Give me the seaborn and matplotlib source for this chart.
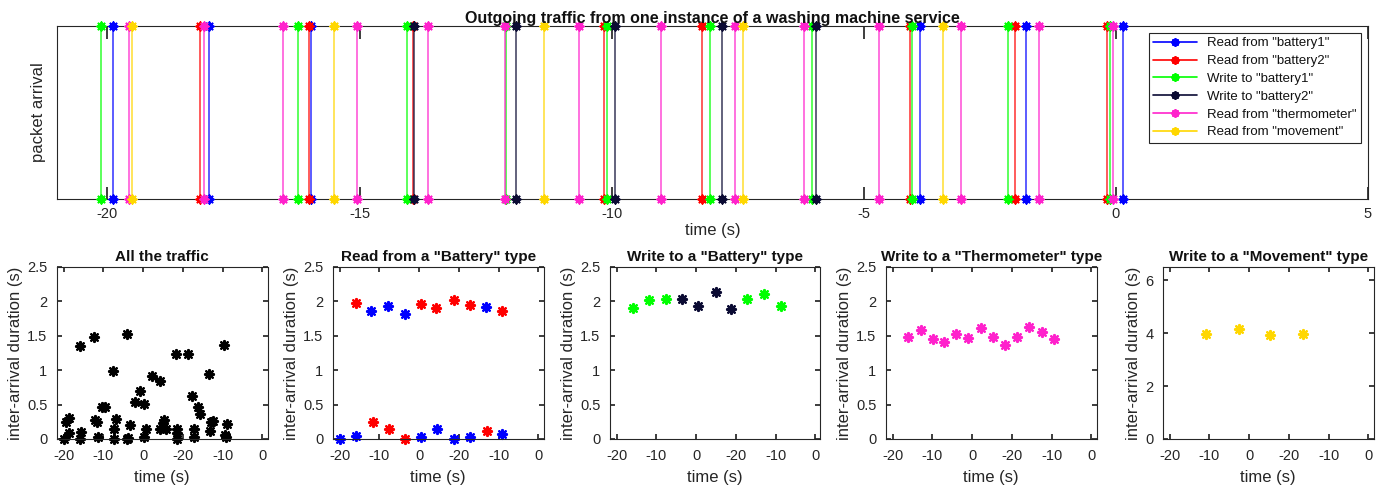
import numpy as np
import pandas as pd
import seaborn as sns
import matplotlib.pyplot as plt
from matplotlib.lines import Line2D
plt.switch_backend('agg')

# ---- top panel: packet arrival times (s)
rd_batt1 = [-19.88, -17.98, -15.97, -3.89, -1.78, 0.15]
rd_batt2 = [-18.16, -16.00, -13.93, -10.16, -8.20, -4.08, -2.01, -0.18]
wr_batt1 = [-20.13, -16.23, -14.06, -12.09, -10.10, -8.04, -6.03, -4.04, -2.13, -0.11]
wr_batt2 = [-13.91, -11.89, -9.93, -7.82, -5.94]
rd_thermo = [-19.58, -18.09, -16.52, -15.05, -13.64, -12.11, -10.64, -9.03, -7.55,
             -6.18, -4.70, -3.08, -1.52, -0.05]
rd_move = [-19.51, -15.50, -11.34, -7.40, -3.43]

series_names = ['Read from "battery1"', 'Read from "battery2"', 'Write to "battery1"',
                'Write to "battery2"', 'Read from "thermometer"', 'Read from "movement"']
series_colors = ['#0000ff', '#ff0000', '#00ff00', '#0b0b33', '#ff22cc', '#ffd700']
top_ticks = [-20, -15, -10, -5, 0, 5]

# ---- bottom panels: inter-arrival durations
bot_ticks = [0, 10, 20, 30, 40, 50]
bot_ticklabels = ['-20', '-10', '0', '-20', '-10', '0']

all_x = [0, 0.67, 1.25, 1.4, 4.17, 4.17, 4.3, 7.5, 7.9, 8.3, 8.5, 9.6, 10.4, 12.3, 12.7,
         12.7, 13.2, 15.8, 16.0, 16.2, 16.7, 17.9, 19.2, 20.2, 20.2, 20.6, 22.3, 24.2, 24.3,
         25.0, 25.25, 25.7, 28.2, 28.6, 28.6, 28.6, 31.25, 32.3, 32.7, 32.9, 33.75, 34.4,
         36.5, 36.7, 37.1, 37.5, 40.4, 40.6, 40.8, 41.1]
all_y = [0, 0.25, 0.30, 0.08, 1.35, 0, 0.1, 1.48, 0.28, 0.24, 0.03, 0.47, 0.47, 0.99, 0.14,
         0, 0.29, 1.52, 0, 0.01, 0.21, 0.54, 0.70, 0.51, 0.03, 0.15, 0.91, 0.84, 0.14,
         0.23, 0.28, 0.14, 1.23, 0.14, 0.08, 0, 1.23, 0.62, 0.03, 0.15, 0.47, 0.36,
         0.94, 0.11, 0.24, 0.26, 1.36, 0.06, 0.03, 0.22]

rb_blue_x = [0, 4.2, 7.8, 12.2, 16.5, 20.4, 24.5, 28.7, 32.7, 36.7, 40.8]
rb_blue_y = [0, 0.04, 1.86, 1.93, 1.82, 0.03, 0.15, 0, 0.03, 1.92, 0.07]
rb_red_x = [4.05, 8.4, 12.5, 16.5, 20.4, 24.3, 28.7, 32.7, 37.0, 40.8]
rb_red_y = [1.98, 0.24, 0.15, 0, 1.96, 1.90, 2.02, 1.95, 0.11, 1.86]

wb_green_x = [4.0, 8.2, 12.3, 32.9, 37.1, 41.3]
wb_green_y = [1.90, 2.02, 2.04, 2.04, 2.11, 1.93]
wb_dark_x = [16.4, 20.5, 24.9, 28.8]
wb_dark_y = [2.04, 1.94, 2.13, 1.89]

th_x = [3.8, 7.1, 10.1, 12.9, 16.0, 19.0, 22.3, 25.2, 28.2, 31.2, 34.4, 37.5, 40.7]
th_y = [1.48, 1.59, 1.46, 1.41, 1.52, 1.47, 1.61, 1.48, 1.36, 1.48, 1.63, 1.56, 1.46]

mv_x = [9.1, 17.5, 25.3, 33.5]
mv_y = [3.97, 4.16, 3.92, 3.97]

sns.set_theme(style='ticks')
plt.rcParams['font.family'] = ['Liberation Sans', 'DejaVu Sans']
plt.rcParams.update({
    'xtick.direction': 'in', 'ytick.direction': 'in',
    'xtick.top': True, 'ytick.right': True,
    'axes.edgecolor': '#262626', 'xtick.color': '#262626', 'ytick.color': '#262626',
    'text.color': '#111111', 'axes.labelcolor': '#262626',
    'axes.linewidth': 0.8, 'font.size': 11,
})
ASTER = (8, 2, 0)
W, H = 1387, 487

fig = plt.figure(figsize=(13.87, 4.87), dpi=100)


def px_axes(left, top, right, bottom):
    return fig.add_axes([left / W, 1 - bottom / H, (right - left) / W, (bottom - top) / H])


# ---- top panel
ax = px_axes(57, 26, 1368, 199)
all_series = [rd_batt1, rd_batt2, wr_batt1, wr_batt2, rd_thermo, rd_move]
handles = []
for times, name, col in zip(all_series, series_names, series_colors):
    ax.vlines(times, 0, 1, colors=col, lw=1.2, alpha=0.75, clip_on=False)
    df = pd.DataFrame({'t': times + times, 'v': [0] * len(times) + [1] * len(times)})
    sns.scatterplot(data=df, x='t', y='v', ax=ax, color=col, marker=ASTER, s=36,
                    linewidth=1.4, edgecolor=col, clip_on=False, zorder=3)
    handles.append(Line2D([], [], color=col, lw=1.2, marker=ASTER, markersize=6,
                          markeredgewidth=1.4, label=name))
ax.set_xlim(-21, 5)
ax.set_ylim(0, 1)
ax.set_xticks(top_ticks)
ax.set_xticklabels([str(t) for t in top_ticks])
ax.set_yticks([])
ax.set_xlabel('time (s)', fontsize=12, labelpad=1)
ax.set_ylabel('packet arrival', fontsize=12, labelpad=8)
ax.tick_params(axis='x', length=9, labelsize=10.5, pad=6)
ax.set_title('Outgoing traffic from one instance of a washing machine service',
             fontsize=11.5, fontweight='bold', pad=2)
leg = ax.legend(handles=handles, loc='upper right', numpoints=1, fontsize=9.5,
                fancybox=False, framealpha=1, edgecolor='#262626', borderaxespad=0.5,
                handlelength=3.3, labelspacing=0.42, borderpad=0.35)
leg.get_frame().set_linewidth(0.8)

# ---- bottom panels
lefts = [57, 333, 610, 886, 1163]
titles = ['All the traffic', 'Read from a "Battery" type', 'Write to a "Battery" type',
          'Write to a "Thermometer" type', 'Write to a "Movement" type']
panels = [
    [(all_x, all_y, 'black')],
    [(rb_blue_x, rb_blue_y, series_colors[0]), (rb_red_x, rb_red_y, series_colors[1])],
    [(wb_green_x, wb_green_y, series_colors[2]), (wb_dark_x, wb_dark_y, series_colors[3])],
    [(th_x, th_y, series_colors[4])],
    [(mv_x, mv_y, series_colors[5])],
]
for i, (left, title, groups) in enumerate(zip(lefts, titles, panels)):
    bx = px_axes(left, 267, left + 210.5, 439)
    for gx, gy, col in groups:
        sns.scatterplot(x=gx, y=gy, ax=bx, color=col, marker=ASTER, s=42,
                        linewidth=1.6, edgecolor=col, clip_on=False)
    bx.set_xlim(-1.7, 51.3)
    bx.set_xticks(bot_ticks)
    bx.set_xticklabels(bot_ticklabels)
    if i == 4:
        bx.set_ylim(0, 6.5)
        bx.set_yticks([0, 2, 4, 6])
        bx.set_yticklabels(['0', '2', '4', '6'])
    else:
        bx.set_ylim(0, 2.5)
        bx.set_yticks([0, 0.5, 1, 1.5, 2, 2.5])
        bx.set_yticklabels(['0', '0.5', '1', '1.5', '2', '2.5'])
    bx.tick_params(length=3.5, labelsize=10.5, pad=7)
    bx.set_xlabel('time (s)', fontsize=12, labelpad=5)
    bx.set_ylabel('inter-arrival duration (s)', fontsize=12, labelpad=3)
    bx.set_title(title, fontsize=11, fontweight='bold', pad=4)

fig.savefig('out.png', dpi=100)
